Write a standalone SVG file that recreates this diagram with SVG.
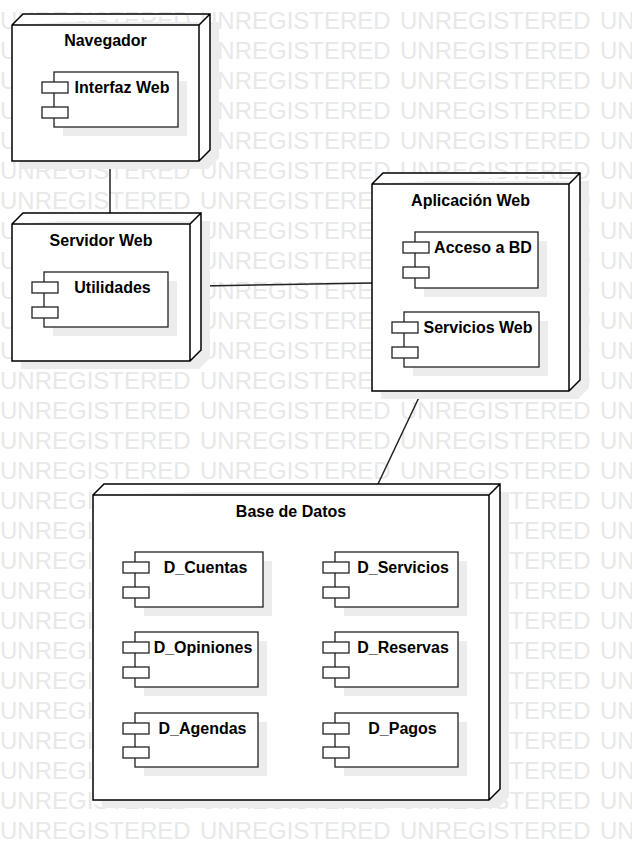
<svg xmlns="http://www.w3.org/2000/svg" width="632" height="852" viewBox="0 0 632 852">
<style>
.wm{font-family:"Liberation Sans",Arial,sans-serif;font-size:24px;fill:#e8e8e8}
.shadow{fill:#ececec}
.node{fill:#fff;stroke:#000;stroke-width:1.5;stroke-linejoin:miter}
.comp{fill:#fff;stroke:#222;stroke-width:1.3}
.t{font-family:"Liberation Sans",Arial,sans-serif;font-size:16px;font-weight:bold;fill:#000;text-anchor:middle}
.conn{stroke:#222;stroke-width:1.5;fill:none}
</style>
<rect width="632" height="852" fill="#fff"/>
<g id="watermark">
<text class="wm" y="29"><tspan x="0">UNREGISTERED</tspan><tspan x="200">UNREGISTERED</tspan><tspan x="400">UNREGISTERED</tspan><tspan x="600">UNREGISTERED</tspan></text>
<text class="wm" y="59"><tspan x="0">UNREGISTERED</tspan><tspan x="200">UNREGISTERED</tspan><tspan x="400">UNREGISTERED</tspan><tspan x="600">UNREGISTERED</tspan></text>
<text class="wm" y="89"><tspan x="0">UNREGISTERED</tspan><tspan x="200">UNREGISTERED</tspan><tspan x="400">UNREGISTERED</tspan><tspan x="600">UNREGISTERED</tspan></text>
<text class="wm" y="119"><tspan x="0">UNREGISTERED</tspan><tspan x="200">UNREGISTERED</tspan><tspan x="400">UNREGISTERED</tspan><tspan x="600">UNREGISTERED</tspan></text>
<text class="wm" y="149"><tspan x="0">UNREGISTERED</tspan><tspan x="200">UNREGISTERED</tspan><tspan x="400">UNREGISTERED</tspan><tspan x="600">UNREGISTERED</tspan></text>
<text class="wm" y="179"><tspan x="0">UNREGISTERED</tspan><tspan x="200">UNREGISTERED</tspan><tspan x="400">UNREGISTERED</tspan><tspan x="600">UNREGISTERED</tspan></text>
<text class="wm" y="209"><tspan x="0">UNREGISTERED</tspan><tspan x="200">UNREGISTERED</tspan><tspan x="400">UNREGISTERED</tspan><tspan x="600">UNREGISTERED</tspan></text>
<text class="wm" y="239"><tspan x="0">UNREGISTERED</tspan><tspan x="200">UNREGISTERED</tspan><tspan x="400">UNREGISTERED</tspan><tspan x="600">UNREGISTERED</tspan></text>
<text class="wm" y="269"><tspan x="0">UNREGISTERED</tspan><tspan x="200">UNREGISTERED</tspan><tspan x="400">UNREGISTERED</tspan><tspan x="600">UNREGISTERED</tspan></text>
<text class="wm" y="299"><tspan x="0">UNREGISTERED</tspan><tspan x="200">UNREGISTERED</tspan><tspan x="400">UNREGISTERED</tspan><tspan x="600">UNREGISTERED</tspan></text>
<text class="wm" y="329"><tspan x="0">UNREGISTERED</tspan><tspan x="200">UNREGISTERED</tspan><tspan x="400">UNREGISTERED</tspan><tspan x="600">UNREGISTERED</tspan></text>
<text class="wm" y="359"><tspan x="0">UNREGISTERED</tspan><tspan x="200">UNREGISTERED</tspan><tspan x="400">UNREGISTERED</tspan><tspan x="600">UNREGISTERED</tspan></text>
<text class="wm" y="389"><tspan x="0">UNREGISTERED</tspan><tspan x="200">UNREGISTERED</tspan><tspan x="400">UNREGISTERED</tspan><tspan x="600">UNREGISTERED</tspan></text>
<text class="wm" y="419"><tspan x="0">UNREGISTERED</tspan><tspan x="200">UNREGISTERED</tspan><tspan x="400">UNREGISTERED</tspan><tspan x="600">UNREGISTERED</tspan></text>
<text class="wm" y="449"><tspan x="0">UNREGISTERED</tspan><tspan x="200">UNREGISTERED</tspan><tspan x="400">UNREGISTERED</tspan><tspan x="600">UNREGISTERED</tspan></text>
<text class="wm" y="479"><tspan x="0">UNREGISTERED</tspan><tspan x="200">UNREGISTERED</tspan><tspan x="400">UNREGISTERED</tspan><tspan x="600">UNREGISTERED</tspan></text>
<text class="wm" y="509"><tspan x="0">UNREGISTERED</tspan><tspan x="200">UNREGISTERED</tspan><tspan x="400">UNREGISTERED</tspan><tspan x="600">UNREGISTERED</tspan></text>
<text class="wm" y="539"><tspan x="0">UNREGISTERED</tspan><tspan x="200">UNREGISTERED</tspan><tspan x="400">UNREGISTERED</tspan><tspan x="600">UNREGISTERED</tspan></text>
<text class="wm" y="569"><tspan x="0">UNREGISTERED</tspan><tspan x="200">UNREGISTERED</tspan><tspan x="400">UNREGISTERED</tspan><tspan x="600">UNREGISTERED</tspan></text>
<text class="wm" y="599"><tspan x="0">UNREGISTERED</tspan><tspan x="200">UNREGISTERED</tspan><tspan x="400">UNREGISTERED</tspan><tspan x="600">UNREGISTERED</tspan></text>
<text class="wm" y="629"><tspan x="0">UNREGISTERED</tspan><tspan x="200">UNREGISTERED</tspan><tspan x="400">UNREGISTERED</tspan><tspan x="600">UNREGISTERED</tspan></text>
<text class="wm" y="659"><tspan x="0">UNREGISTERED</tspan><tspan x="200">UNREGISTERED</tspan><tspan x="400">UNREGISTERED</tspan><tspan x="600">UNREGISTERED</tspan></text>
<text class="wm" y="689"><tspan x="0">UNREGISTERED</tspan><tspan x="200">UNREGISTERED</tspan><tspan x="400">UNREGISTERED</tspan><tspan x="600">UNREGISTERED</tspan></text>
<text class="wm" y="719"><tspan x="0">UNREGISTERED</tspan><tspan x="200">UNREGISTERED</tspan><tspan x="400">UNREGISTERED</tspan><tspan x="600">UNREGISTERED</tspan></text>
<text class="wm" y="749"><tspan x="0">UNREGISTERED</tspan><tspan x="200">UNREGISTERED</tspan><tspan x="400">UNREGISTERED</tspan><tspan x="600">UNREGISTERED</tspan></text>
<text class="wm" y="779"><tspan x="0">UNREGISTERED</tspan><tspan x="200">UNREGISTERED</tspan><tspan x="400">UNREGISTERED</tspan><tspan x="600">UNREGISTERED</tspan></text>
<text class="wm" y="809"><tspan x="0">UNREGISTERED</tspan><tspan x="200">UNREGISTERED</tspan><tspan x="400">UNREGISTERED</tspan><tspan x="600">UNREGISTERED</tspan></text>
<text class="wm" y="839"><tspan x="0">UNREGISTERED</tspan><tspan x="200">UNREGISTERED</tspan><tspan x="400">UNREGISTERED</tspan><tspan x="600">UNREGISTERED</tspan></text>
</g>
<g id="connectors">
<line class="conn" x1="110" y1="161" x2="110" y2="213"/>
<line class="conn" x1="201" y1="286" x2="372" y2="283"/>
<line class="conn" x1="422" y1="391" x2="378" y2="484"/>
</g>
<g id="navegador">
<polygon class="shadow" points="21,33 32,22 219,22 219,158 208,169 21,169"/>
<path class="node" d="M12,25 L23,14 L210,14 L210,150 L199,161 L12,161 Z M12,25 L199,25 L210,14 M199,25 L199,161"/>
<text class="t" x="105.5" y="46">Navegador</text>
<g id="interfaz-web">
<rect class="shadow" x="63" y="81" width="124" height="55"/>
<rect class="comp" x="54" y="72" width="124" height="55"/>
<rect class="comp" x="42" y="82" width="26" height="11"/>
<rect class="comp" x="42" y="107" width="26" height="11"/>
<text class="t" x="122" y="93">Interfaz Web</text>
</g>
</g>
<g id="servidor-web">
<polygon class="shadow" points="21,232 32,221 210,221 210,358 199,369 21,369"/>
<path class="node" d="M12,224 L23,213 L201,213 L201,350 L190,361 L12,361 Z M12,224 L190,224 L201,213 M190,224 L190,361"/>
<text class="t" x="101" y="246">Servidor Web</text>
<g id="utilidades">
<rect class="shadow" x="53" y="281" width="124" height="55"/>
<rect class="comp" x="44" y="272" width="124" height="55"/>
<rect class="comp" x="32" y="282" width="26" height="11"/>
<rect class="comp" x="32" y="307" width="26" height="11"/>
<text class="t" x="112.5" y="293">Utilidades</text>
</g>
</g>
<g id="aplicacion-web">
<polygon class="shadow" points="381,192 392,181 589,181 589,388 578,399 381,399"/>
<path class="node" d="M372,184 L383,173 L580,173 L580,380 L569,391 L372,391 Z M372,184 L569,184 L580,173 M569,184 L569,391"/>
<text class="t" x="470.5" y="206">Aplicación Web</text>
<g id="acceso-bd">
<rect class="shadow" x="424" y="241" width="123" height="56"/>
<rect class="comp" x="415" y="232" width="123" height="56"/>
<rect class="comp" x="403" y="242" width="26" height="11"/>
<rect class="comp" x="403" y="267" width="26" height="11"/>
<text class="t" x="483" y="253">Acceso a BD</text>
</g>
<g id="servicios-web">
<rect class="shadow" x="413" y="321" width="135" height="55"/>
<rect class="comp" x="404" y="312" width="135" height="55"/>
<rect class="comp" x="392" y="322" width="26" height="11"/>
<rect class="comp" x="392" y="347" width="26" height="11"/>
<text class="t" x="478" y="333">Servicios Web</text>
</g>
</g>
<g id="base-de-datos">
<polygon class="shadow" points="102,503 113,492 509,492 509,797 498,808 102,808"/>
<path class="node" d="M93,495 L104,484 L500,484 L500,789 L489,800 L93,800 Z M93,495 L489,495 L500,484 M489,495 L489,800"/>
<text class="t" x="291" y="517">Base de Datos</text>
<g id="d-cuentas">
<rect class="shadow" x="144" y="561" width="128" height="55"/>
<rect class="comp" x="135" y="552" width="128" height="55"/>
<rect class="comp" x="123" y="562" width="26" height="11"/>
<rect class="comp" x="123" y="587" width="26" height="11"/>
<text class="t" x="205.5" y="573">D_Cuentas</text>
</g>
<g id="d-servicios">
<rect class="shadow" x="344" y="561" width="123" height="55"/>
<rect class="comp" x="335" y="552" width="123" height="55"/>
<rect class="comp" x="323" y="562" width="26" height="11"/>
<rect class="comp" x="323" y="587" width="26" height="11"/>
<text class="t" x="403" y="573">D_Servicios</text>
</g>
<g id="d-opiniones">
<rect class="shadow" x="144" y="641" width="123" height="55"/>
<rect class="comp" x="135" y="632" width="123" height="55"/>
<rect class="comp" x="123" y="642" width="26" height="11"/>
<rect class="comp" x="123" y="667" width="26" height="11"/>
<text class="t" x="203" y="653">D_Opiniones</text>
</g>
<g id="d-reservas">
<rect class="shadow" x="344" y="641" width="123" height="55"/>
<rect class="comp" x="335" y="632" width="123" height="55"/>
<rect class="comp" x="323" y="642" width="26" height="11"/>
<rect class="comp" x="323" y="667" width="26" height="11"/>
<text class="t" x="403" y="653">D_Reservas</text>
</g>
<g id="d-agendas">
<rect class="shadow" x="144" y="722" width="123" height="54"/>
<rect class="comp" x="135" y="713" width="123" height="54"/>
<rect class="comp" x="123" y="723" width="26" height="11"/>
<rect class="comp" x="123" y="747" width="26" height="11"/>
<text class="t" x="202.5" y="734">D_Agendas</text>
</g>
<g id="d-pagos">
<rect class="shadow" x="344" y="722" width="123" height="54"/>
<rect class="comp" x="335" y="713" width="123" height="54"/>
<rect class="comp" x="323" y="723" width="26" height="11"/>
<rect class="comp" x="323" y="747" width="26" height="11"/>
<text class="t" x="402.5" y="734">D_Pagos</text>
</g>
</g>
</svg>
